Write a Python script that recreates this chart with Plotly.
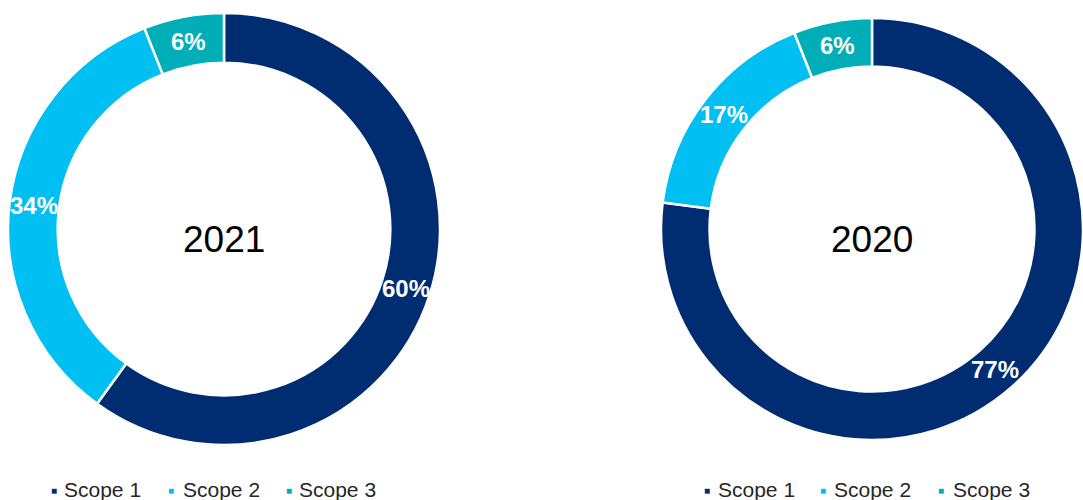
import math
import plotly.graph_objects as go

# ---- data ----
categories = ["Scope 1", "Scope 2", "Scope 3"]
values_2021 = [60, 34, 6]
values_2020 = [77, 17, 6]
years = ["2021", "2020"]
colors = ["#002D72", "#00BFF3", "#00AEB8"]

W, H = 1083, 500
HOLE = 0.77
FONT = "Arial, Liberation Sans, sans-serif"


def px(x):
    return x / W


def py(y):
    return 1 - y / H


# pixel geometry (layout only): left, top, right, bottom of each pie's domain box
boxes = [(8, 13, 440, 445), (661, 13, W, 445)]
legend_sq_x = [[50, 167, 285], [703, 819, 937]]
legend_tx_x = [[62, 181, 297], [716, 832, 951]]

fig = go.Figure()
annotations = []
for i, vals in enumerate([values_2021, values_2020]):
    x0, y0, x1, y1 = boxes[i]
    fig.add_trace(go.Pie(
        labels=categories,
        values=vals,
        hole=HOLE,
        sort=False,
        direction="clockwise",
        rotation=0,
        domain=dict(x=[px(x0), px(x1)], y=[py(y1), py(y0)]),
        marker=dict(colors=colors, line=dict(color="white", width=2.5)),
        textinfo="none",
        showlegend=False,
        hoverinfo="label+value",
    ))

    # geometry of the drawn pie (plotly: radius = half the smaller side, centred in box)
    cx, cy = (x0 + x1) / 2, (y0 + y1) / 2
    R = min(x1 - x0, y1 - y0) / 2
    r_mid = R * (1 + HOLE) / 2
    total = sum(vals)

    # percentage labels at the middle of each slice
    cum = 0
    for v in vals:
        theta = 2 * math.pi * (cum + v / 2) / total
        cum += v
        lx = cx + r_mid * math.sin(theta)
        ly = cy - r_mid * math.cos(theta)
        annotations.append(dict(
            x=px(lx), y=py(ly), xref="paper", yref="paper",
            text=f"{v}%", showarrow=False, xanchor="center", yanchor="middle",
            font=dict(family=FONT, size=24, color="white", weight="bold"),
        ))

    # year in the hole
    annotations.append(dict(
        x=px(cx), y=py(cy + 10), xref="paper", yref="paper",
        text=years[i], showarrow=False, xanchor="center", yanchor="middle",
        font=dict(family=FONT, size=37, color="#000000"),
    ))

    # legend row under each pie
    for j, cat in enumerate(categories):
        annotations.append(dict(
            x=px(legend_sq_x[i][j] - 1), y=py(490), xref="paper", yref="paper",
            text="■", showarrow=False, xanchor="left", yanchor="middle",
            font=dict(family=FONT, size=10, color=colors[j]),
        ))
        annotations.append(dict(
            x=px(legend_tx_x[i][j]), y=py(489), xref="paper", yref="paper",
            text=cat, showarrow=False, xanchor="left", yanchor="middle",
            font=dict(family=FONT, size=21, color="#262626"),
        ))

fig.update_layout(
    margin=dict(l=0, r=0, t=0, b=0),
    paper_bgcolor="white",
    plot_bgcolor="white",
    annotations=annotations,
)

fig.write_html("out.html")
